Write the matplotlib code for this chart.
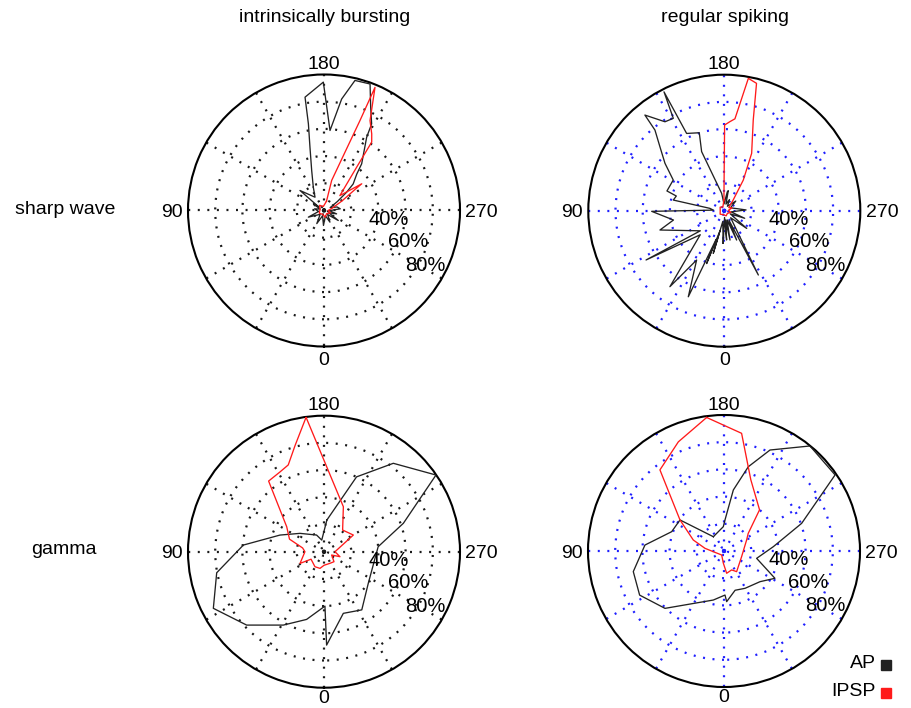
import numpy as np
import matplotlib.pyplot as plt
from matplotlib.lines import Line2D

plt.rcParams['font.family'] = ['Liberation Sans', 'DejaVu Sans']

# phase (deg) vs. percent of max
# intrinsically bursting, sharp wave
ib_sw_ap_deg = [155.4, 162.9, 167.5, 169.8, 170.5, 179.7, 184.3, 189, 193.4, 200, 204.3, 208.8, 210.2, 218.9,
                222, 227.7, 231, 236, 245, 255, 264, 272, 285, 295, 305, 318, 333, 345, 2, 15, 28.8, 45, 67, 80,
                100, 110, 122, 125, 129.8, 146]
ib_sw_ap_pct = [18.9, 30.8, 47.7, 64.8, 84.5, 94.4, 59, 83, 98.3, 99, 83.4, 72.7, 62.4, 44.1,
                36, 29, 21.4, 12, 5, 10, 12, 4, 9.6, 4, 12.8, 4, 9.6, 4, 11, 4, 11, 4, 12.5, 4,
                7, 3, 9.2, 5, 23, 11.8]
ib_sw_ipsp_deg = [195, 194.3, 199.8, 201.8, 202.5, 207.1, 211.9, 214.9, 217, 226.8, 234.7, 236, 242, 255,
                  270, 290, 320, 350, 20, 60, 100, 140, 170]
ib_sw_ipsp_pct = [7, 22.8, 45.6, 71.3, 98, 74.3, 66.4, 61.3, 40, 16, 34, 27, 15, 6,
                  3, 5, 3, 5, 3, 4, 3, 5, 3]

# regular spiking, sharp wave
rs_sw_ap_deg = [2, 8, 14.5, 12, 18.5, 16, 22.7, 29.3, 35.6, 45, 57.8, 50, 73.3, 79.6, 89.5, 93, 99.2, 101.8,
                107, 109, 121, 128.6, 134.8, 139.3, 140.3, 146.3, 151.1, 153.1, 154, 162.2, 159, 171.3, 178,
                189, 191.3, 194, 205, 215, 230, 245, 260, 268, 280, 290.4, 298, 308.3, 318, 332.1, 334,
                337.2, 343, 349, 352, 355.5, 358]
rs_sw_ap_pct = [24, 8, 32.4, 15, 41, 22, 68.6, 41.6, 68.7, 25, 68, 23, 49.4, 38, 53.4, 8, 10.7, 38.3,
                36.9, 44.6, 43.8, 55.8, 66.7, 78.2, 91.4, 78.6, 77.6, 98, 63.2, 60.2, 46.5, 12.9, 5,
                14, 15, 5, 9, 4, 11, 5, 9, 16, 5, 16, 5, 21, 7, 53.5, 8,
                23.4, 7, 22, 7, 21.6, 5]
rs_sw_ipsp_deg = [178, 180.2, 183.6, 186.6, 190.3, 194.2, 197.7, 205.5, 211.8, 220, 235, 250, 265, 285,
                  310, 340, 10, 50, 90, 130, 160]
rs_sw_ipsp_pct = [8, 63, 65.6, 68, 98.9, 96.6, 70, 46.7, 26.5, 10, 4, 6, 3, 5,
                  3, 4, 3, 4, 3, 4, 3]

# intrinsically bursting, gamma
ib_g_ap_deg = [185.2, 169, 156, 127.4, 110.7, 94.7, 78.9, 62.9, 46.5, 29, 14.4, 359, 358.4, 342.6, 327,
               305.5, 264.7, 250.3, 235.6, 218.1, 203.5]
ib_g_ap_pct = [23.4, 8.7, 13.4, 22.2, 34.6, 59.5, 80.4, 91.4, 78.4, 61.7, 51.4, 40, 68.7, 47.5, 51,
               40, 40, 62, 99.8, 82.6, 60]
ib_g_ipsp_deg = [172.4, 164.8, 157.6, 151.2, 141.9, 123.8, 110, 100, 90, 64, 60, 31, 13.5, 0, 333, 315,
                 293.5, 287.4, 270, 240.4, 220.7, 203.3]
ib_g_ipsp_pct = [99.7, 81, 69, 67, 66, 33, 27, 16, 14, 19.6, 11, 12.9, 12.6, 10, 9.6, 10.4,
                 6.1, 12.3, 8.1, 24.8, 21, 36]

# regular spiking, gamma
rs_g_ap_deg = [143.3, 125.2, 110.3, 94.3, 77.2, 62.4, 45.8, 12.3, 358.7, 357, 344.2, 330.6, 310.4, 298.2,
               282.7, 265, 250.4, 235.6, 219.3, 204.5, 196.1, 188.7, 181.8, 178.4]
rs_g_ap_pct = [13.1, 39.6, 41, 58.3, 68.4, 70, 60.5, 36.9, 32.4, 37.3, 30, 31.5, 34.8, 42.5,
               24.6, 36.4, 60.6, 99, 99.8, 81.6, 64.5, 45.4, 22.8, 17.9]
rs_g_ipsp_deg = [172.6, 188.5, 200.6, 220.8, 234, 244, 287.8, 328.5, 338, 353.2, 3, 30, 86.4, 98, 109.7,
                 125.2, 141.7, 157.3]
rs_g_ipsp_pct = [99, 87.5, 56, 40, 22, 18.5, 13.6, 17.8, 15, 16.5, 9, 3.4, 7.9, 14.1, 24,
                 39.6, 76, 87]

ring_ticks = [3, 20, 40, 60, 80]
ring_labels = ['40%', '60%', '80%']
ring_label_deg = [276, 289, 297.5]
ring_label_r = [47.5, 65.7, 83.7]

AP_COLOR = '#222222'
IPSP_COLOR = '#ff1a1a'

W, H = 912, 708
fig = plt.figure(figsize=(W / 100, H / 100), dpi=100)


def closed(deg, pct):
    return np.deg2rad(np.r_[deg, deg[:1]]), np.r_[pct, pct[:1]]


def panel(cx, cy, grid_color, ap_deg, ap_pct, ipsp_deg, ipsp_pct, zero_r=104):
    R = 136
    ax = fig.add_axes([(cx - R) / W, 1 - (cy + R) / H, 2 * R / W, 2 * R / H], projection='polar')
    ax.set_theta_zero_location('S')
    ax.set_theta_direction(-1)
    ax.set_ylim(0, 100)
    ax.set_xticks(np.deg2rad(np.arange(0, 360, 30)))
    ax.set_yticks(ring_ticks)
    ax.set_xticklabels([])
    ax.set_yticklabels([])
    ax.tick_params(length=0)
    ax.grid(True, color=grid_color, linestyle=(0, (0.9, 3.4)), linewidth=1.6)
    ax.spines['polar'].set_linewidth(1.5)

    t, r = closed(ap_deg, ap_pct)
    ax.plot(t, r, color=AP_COLOR, lw=0.95, zorder=3)
    t, r = closed(ipsp_deg, ipsp_pct)
    ax.plot(t, r, color=IPSP_COLOR, lw=0.95, zorder=4)

    ax.text(0, zero_r, '0', ha='center', va='top', fontsize=14)
    ax.text(np.pi / 2, 104, '90', ha='right', va='center_baseline', fontsize=14)
    ax.text(np.pi, 104, '180', ha='center', va='baseline', fontsize=14)
    ax.text(3 * np.pi / 2, 104, '270', ha='left', va='center_baseline', fontsize=14)
    for lab, d, rr in zip(ring_labels, ring_label_deg, ring_label_r):
        ax.text(np.deg2rad(d), rr, lab, ha='center', va='center_baseline', fontsize=14.5, zorder=5)
    return ax


panel(324, 210.5, '#1a1a1a', ib_sw_ap_deg, ib_sw_ap_pct, ib_sw_ipsp_deg, ib_sw_ipsp_pct)
panel(724.3, 210.7, '#1f1fff', rs_sw_ap_deg, rs_sw_ap_pct, rs_sw_ipsp_deg, rs_sw_ipsp_pct)
panel(324, 551.7, '#1a1a1a', ib_g_ap_deg, ib_g_ap_pct, ib_g_ipsp_deg, ib_g_ipsp_pct, zero_r=101.5)
panel(724, 551, '#1f1fff', rs_g_ap_deg, rs_g_ap_pct, rs_g_ipsp_deg, rs_g_ipsp_pct, zero_r=101.5)

fig.text(325 / W, 1 - 18 / H, 'intrinsically bursting', ha='center', va='center', fontsize=14)
fig.text(725 / W, 1 - 18 / H, 'regular spiking', ha='center', va='center', fontsize=14)
fig.text(65 / W, 1 - 210 / H, 'sharp wave', ha='center', va='center', fontsize=14)
fig.text(64 / W, 1 - 550 / H, 'gamma', ha='center', va='center', fontsize=14)

# legend
fig.text(876 / W, 1 - 664 / H, 'AP', ha='right', va='center', fontsize=14)
fig.text(876 / W, 1 - 692 / H, 'IPSP', ha='right', va='center', fontsize=14)
fig.add_artist(Line2D([886.5 / W], [1 - 665 / H], marker='s', ms=7.5, color=AP_COLOR,
                      transform=fig.transFigure))
fig.add_artist(Line2D([886.5 / W], [1 - 693 / H], marker='s', ms=7.5, color=IPSP_COLOR,
                      transform=fig.transFigure))

fig.savefig('out.png', dpi=100, facecolor='white')
